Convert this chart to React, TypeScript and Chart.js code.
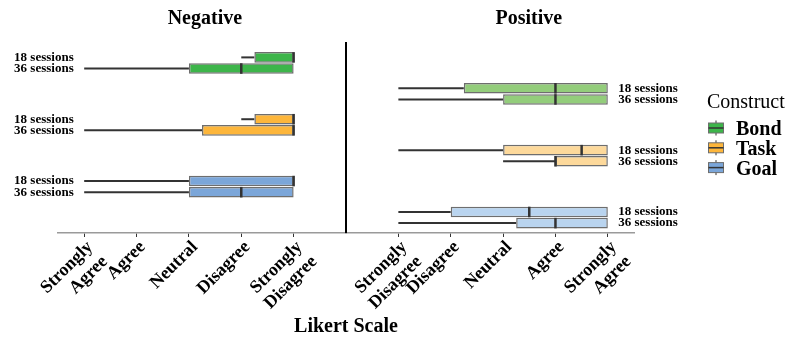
import React, { useEffect, useRef } from 'react';
import { Chart, registerables } from 'chart.js';

Chart.register(...registerables);

// Categories
const constructs = ['Bond', 'Task', 'Goal'];
const valences = ['Negative', 'Positive'];
const sessionLabels = ['18 sessions', '36 sessions'];
const likertValues = [1, 2, 3, 4, 5];
const negTickLabels: (string | string[])[] = [['Strongly', 'Agree'], 'Agree', 'Neutral', 'Disagree', ['Strongly', 'Disagree']];
const posTickLabels: (string | string[])[] = [['Strongly', 'Disagree'], 'Disagree', 'Neutral', 'Agree', ['Strongly', 'Agree']];

// Negative items, five-number summaries per construct (Bond, Task, Goal)
const neg18Min = [4, 4, 1];
const neg18Q1 = [4.25, 4.25, 3];
const neg18Median = [5, 5, 5];
const neg18Q3 = [5, 5, 5];
const neg18Max = [5, 5, 5];

const neg36Min = [1, 1, 1];
const neg36Q1 = [3, 3.25, 3];
const neg36Median = [4, 5, 4];
const neg36Q3 = [5, 5, 5];
const neg36Max = [5, 5, 5];

// Positive items
const pos18Min = [1, 1, 1];
const pos18Q1 = [2.25, 3, 2];
const pos18Median = [4, 4.5, 3.5];
const pos18Q3 = [5, 5, 5];
const pos18Max = [5, 5, 5];

const pos36Min = [1, 3, 1];
const pos36Q1 = [3, 4, 3.25];
const pos36Median = [4, 4, 4];
const pos36Q3 = [5, 5, 5];
const pos36Max = [5, 5, 5];

const negColors = ['#3db54a', '#fdb63b', '#7ba6d9'];
const posColors = ['#93cd7b', '#fdd99b', '#b9d4ef'];

const SERIF = '"Liberation Serif", "Times New Roman", serif';
const INK = '#333333';
const BOX_EDGE = '#6e6e6e';

// one row slot per construct and valence; negative rows sit half a band above positive rows
const rowLabels = constructs.flatMap((c) => valences.map((v) => `${c} ${v}`));

function boxDataset(session: number, side: 'neg' | 'pos', lo: number[], q1: number[], med: number[], q3: number[], hi: number[]) {
  const valence = side === 'neg' ? valences[0] : valences[1];
  return {
    label: sessionLabels[session],
    side,
    stack: 'box',
    xAxisID: side === 'neg' ? 'xNeg' : 'xPos',
    yAxisID: session === 0 ? 'ySessions18' : 'ySessions36',
    data: constructs.map((c, i) => ({ y: `${c} ${valence}`, x: [q1[i], q3[i]] })),
    whiskerLow: lo,
    whiskerHigh: hi,
    median: med,
    backgroundColor: side === 'neg' ? negColors : posColors,
    borderColor: BOX_EDGE,
    borderWidth: 1.5,
    borderSkipped: false,
    categoryPercentage: 0.72,
    barPercentage: 0.95,
  };
}

const boxPlotPlugin = {
  id: 'boxPlot',
  beforeDatasetsDraw(chart: any) {
    const ctx = chart.ctx;
    ctx.save();
    ctx.strokeStyle = INK;
    ctx.lineWidth = 2;
    chart.data.datasets.forEach((ds: any, di: number) => {
      const meta = chart.getDatasetMeta(di);
      const xs = chart.scales[ds.xAxisID];
      meta.data.forEach((el: any, i: number) => {
        const { y } = el.getProps(['y'], true);
        const [q1, q3] = ds.data[i].x;
        const segs: [number, number][] = [];
        if (ds.whiskerLow[i] < q1) segs.push([ds.whiskerLow[i], q1]);
        if (ds.whiskerHigh[i] > q3) segs.push([q3, ds.whiskerHigh[i]]);
        segs.forEach(([a, b]) => {
          ctx.beginPath();
          ctx.moveTo(xs.getPixelForValue(a), y);
          ctx.lineTo(xs.getPixelForValue(b), y);
          ctx.stroke();
        });
      });
    });
    ctx.restore();
  },
  afterDatasetsDraw(chart: any) {
    const ctx = chart.ctx;
    ctx.save();
    chart.data.datasets.forEach((ds: any, di: number) => {
      const meta = chart.getDatasetMeta(di);
      const xs = chart.scales[ds.xAxisID];
      meta.data.forEach((el: any, i: number) => {
        const { y, height } = el.getProps(['y', 'height'], true);
        const mx = xs.getPixelForValue(ds.median[i]);
        ctx.strokeStyle = INK;
        ctx.lineWidth = 2.5;
        ctx.beginPath();
        ctx.moveTo(mx, y - height / 2);
        ctx.lineTo(mx, y + height / 2);
        ctx.stroke();

        // session label beside each box row
        ctx.fillStyle = '#000';
        ctx.font = `bold 13px ${SERIF}`;
        ctx.textBaseline = 'middle';
        if (ds.side === 'neg') {
          ctx.textAlign = 'right';
          ctx.fillText(ds.label, xs.getPixelForValue(0.8), y);
        } else {
          ctx.textAlign = 'left';
          ctx.fillText(ds.label, xs.getPixelForValue(5.2), y);
        }
      });
    });
    ctx.restore();
  },
  afterDraw(chart: any) {
    const ctx = chart.ctx;
    const area = chart.chartArea;
    const xNeg = chart.scales.xNeg;
    const xPos = chart.scales.xPos;
    ctx.save();

    // panel divider
    ctx.strokeStyle = '#000';
    ctx.lineWidth = 2;
    ctx.beginPath();
    ctx.moveTo(xPos.left, area.top - 5.5);
    ctx.lineTo(xPos.left, area.bottom);
    ctx.stroke();

    // panel titles
    ctx.fillStyle = '#000';
    ctx.font = `bold 20px ${SERIF}`;
    ctx.textAlign = 'center';
    ctx.textBaseline = 'middle';
    ctx.fillText(valences[0], xNeg.left + xNeg.width * 0.51, 19);
    ctx.fillText(valences[1], xPos.left + xPos.width * 0.635, 19);

    // axis title
    ctx.fillText('Likert Scale', (area.left + area.right) / 2, 327);

    // legend
    const lx = area.right + 74;
    ctx.textAlign = 'left';
    ctx.textBaseline = 'alphabetic';
    ctx.font = `20px ${SERIF}`;
    ctx.fillText('Construct', lx - 1, 107.5);
    ctx.font = `bold 20px ${SERIF}`;
    constructs.forEach((c, i) => {
      const cy = 128 + i * 19.8;
      const cx = lx + 8;
      ctx.strokeStyle = INK;
      ctx.lineWidth = 1;
      ctx.beginPath();
      ctx.moveTo(cx, cy - 7.5);
      ctx.lineTo(cx, cy + 7.5);
      ctx.stroke();
      ctx.fillStyle = negColors[i];
      ctx.fillRect(cx - 7.5, cy - 5, 15, 10);
      ctx.strokeStyle = BOX_EDGE;
      ctx.strokeRect(cx - 7.5, cy - 5, 15, 10);
      ctx.strokeStyle = INK;
      ctx.lineWidth = 1.5;
      ctx.beginPath();
      ctx.moveTo(cx - 7.5, cy);
      ctx.lineTo(cx + 7.5, cy);
      ctx.stroke();
      ctx.fillStyle = '#000';
      ctx.fillText(c, lx + 28, cy + 7);
    });
    ctx.restore();
  },
};

function likertAxis(labels: (string | string[])[], min: number, max: number) {
  return {
    type: 'linear' as const,
    position: 'bottom' as const,
    stack: 'likert',
    stackWeight: 1,
    min,
    max,
    afterBuildTicks: (scale: any) => {
      scale.ticks = likertValues.map((v) => ({ value: v }));
    },
    afterFit: (scale: any) => {
      scale.height = 107;
    },
    ticks: {
      autoSkip: false,
      minRotation: 45,
      maxRotation: 45,
      color: '#000',
      padding: 0,
      labelOffset: 6,
      font: { family: SERIF, size: 18, weight: 'bold' as const, lineHeight: 1.15 },
      callback: (v: number) => labels[likertValues.indexOf(v)],
    },
    grid: {
      display: true,
      drawOnChartArea: false,
      drawTicks: true,
      tickLength: 4,
      tickColor: INK,
      tickWidth: 1,
    },
    border: { display: true, color: '#9a9a9a', width: 1.5 },
  };
}

export default function App() {
  const canvasRef = useRef<HTMLCanvasElement | null>(null);

  useEffect(() => {
    if (!canvasRef.current) return;
    const chart = new Chart(canvasRef.current, {
      type: 'bar',
      data: {
        datasets: [
          boxDataset(0, 'neg', neg18Min, neg18Q1, neg18Median, neg18Q3, neg18Max),
          boxDataset(1, 'neg', neg36Min, neg36Q1, neg36Median, neg36Q3, neg36Max),
          boxDataset(0, 'pos', pos18Min, pos18Q1, pos18Median, pos18Q3, pos18Max),
          boxDataset(1, 'pos', pos36Min, pos36Q1, pos36Median, pos36Q3, pos36Max),
        ] as any,
      },
      options: {
        indexAxis: 'y',
        animation: false,
        responsive: false,
        layout: { padding: { left: 58, right: 155, top: 47.5, bottom: 0 } },
        plugins: { legend: { display: false }, tooltip: { enabled: false }, title: { display: false } },
        scales: {
          ySessions18: { type: 'category', position: 'left', display: false, labels: rowLabels },
          ySessions36: { type: 'category', position: 'left', display: false, labels: rowLabels },
          xNeg: likertAxis(negTickLabels, 0.5, 6),
          xPos: likertAxis(posTickLabels, 0, 5.5),
        } as any,
      },
      plugins: [boxPlotPlugin],
    });
    return () => chart.destroy();
  }, []);

  return (
    <div style={{ position: 'absolute', left: 0, top: 0, width: 789, height: 340, background: '#fff' }}>
      <canvas ref={canvasRef} width={789} height={340} style={{ display: 'block' }} />
    </div>
  );
}
